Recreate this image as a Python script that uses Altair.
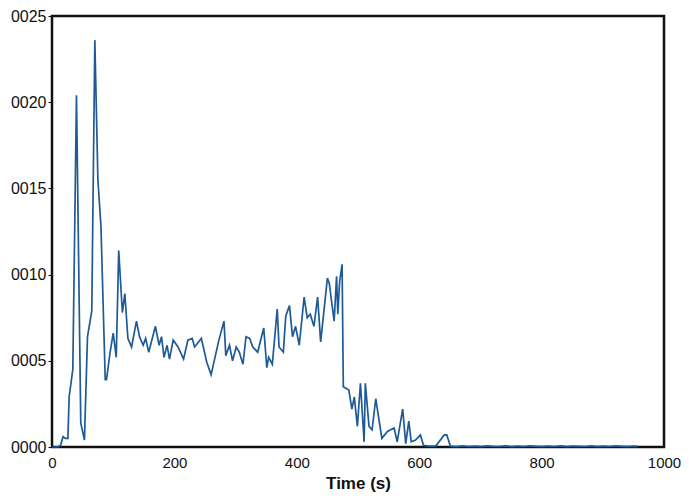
import altair as alt
import pandas as pd

# time (s) and value (x 1e-4)
t_main = [0, 5, 10, 14, 18, 22, 26, 28, 34, 40, 47, 53, 58, 65, 70, 75, 80, 87, 89, 95,
          100, 105, 109, 115, 119, 124, 130, 138, 143, 149, 153, 158, 169, 175, 179, 183,
          188, 192, 198, 206, 215, 222, 229, 233, 244, 253, 260, 272, 281, 284, 290, 295,
          301, 306, 312, 317, 323, 328, 336, 346, 351, 354, 360, 368, 371, 378, 382, 388,
          393, 398, 404, 412, 417, 422, 428, 434, 439, 450, 453, 461, 465, 467, 470, 474,
          476, 485, 490, 494, 499, 504, 510, 512, 518, 523, 529, 539, 548, 559, 564, 573,
          578, 583, 587, 594, 602, 607, 615, 627, 641, 645, 651]
v_main = [0.0, 0.0, 0.0, 0.1, 0.6, 0.5, 0.5, 2.9, 4.5, 20.4, 1.4, 0.4, 6.4, 7.9, 23.6, 15.5,
          12.8, 3.9, 3.9, 5.5, 6.6, 5.2, 11.4, 7.8, 8.9, 6.3, 5.8, 7.3, 6.4, 5.9, 6.3, 5.5,
          7.0, 5.9, 6.4, 5.2, 5.9, 5.1, 6.2, 5.8, 5.1, 6.2, 6.3, 5.8, 6.3, 4.9, 4.2, 6.1,
          7.3, 5.3, 5.9, 5.0, 5.8, 5.5, 4.8, 6.4, 6.3, 5.8, 5.5, 6.9, 4.6, 5.2, 4.8, 8.0,
          5.8, 5.5, 7.6, 8.2, 6.4, 7.0, 5.9, 8.7, 7.5, 7.7, 7.0, 8.7, 6.1, 9.8, 9.5, 7.3,
          9.9, 7.7, 9.6, 10.6, 3.5, 3.3, 2.2, 2.9, 1.2, 3.7, 0.3, 3.7, 1.2, 1.0, 2.8, 0.5,
          0.9, 1.1, 0.3, 2.2, 0.2, 1.5, 0.3, 0.4, 0.7, 0.1, 0.05, 0.05, 0.7, 0.7, 0.05]
t_tail = [661, 671, 681, 691, 701, 711, 721, 731, 741, 751, 761, 771, 781, 791, 801, 811,
          821, 831, 841, 851, 861, 871, 881, 891, 901, 911, 921, 931, 941, 951, 957]
v_tail = [0.02, 0.06, 0.03, 0.05, 0.02, 0.06, 0.04, 0.03, 0.06, 0.02, 0.05, 0.03, 0.06,
          0.04, 0.02, 0.05, 0.03, 0.06, 0.02, 0.05, 0.04, 0.03, 0.06, 0.02, 0.05, 0.03,
          0.06, 0.04, 0.02, 0.05, 0.04]

times = t_main + t_tail
vals = [v * 1e-4 for v in v_main + v_tail]
df = pd.DataFrame({"t": times, "v": vals})

y_ticks = [0.0, 0.0005, 0.0010, 0.0015, 0.0020, 0.0025]
x_ticks = [0, 200, 400, 600, 800, 1000]

chart = alt.Chart(df).mark_line(color="#1d5a96", strokeWidth=1.7).encode(
    x=alt.X("t:Q", scale=alt.Scale(domain=[0, 1000], nice=False),
            axis=alt.Axis(title="Time (s)", values=x_ticks, grid=False, ticks=False,
                          labelPadding=8, domain=False, titleFontWeight="bold",
                          titleFontSize=17, labelFontSize=15, titlePadding=5,
                          labelFlush=False, format="d",
                          labelColor="#111", titleColor="#111")),
    y=alt.Y("v:Q", scale=alt.Scale(domain=[0, 0.0025], nice=False),
            axis=alt.Axis(title=None, values=y_ticks, grid=False, tickSize=4,
                          tickColor="#111", labelPadding=2, domain=False,
                          labelFontSize=16, labelColor="#111", labelFlush=False,
                          labelExpr="replace(format(datum.value, '.4f'), '0.', '')")),
).properties(
    width=612, height=431,
    autosize=alt.AutoSizeParams(type="none"),
    padding={"left": 44, "top": 8, "right": 17, "bottom": 52},
).configure_view(
    stroke="#111", strokeWidth=2.5
).configure_axis(
    labelFont="Liberation Sans", titleFont="Liberation Sans"
)

chart.save("out.html", embed_options={"renderer": "svg", "actions": False})
